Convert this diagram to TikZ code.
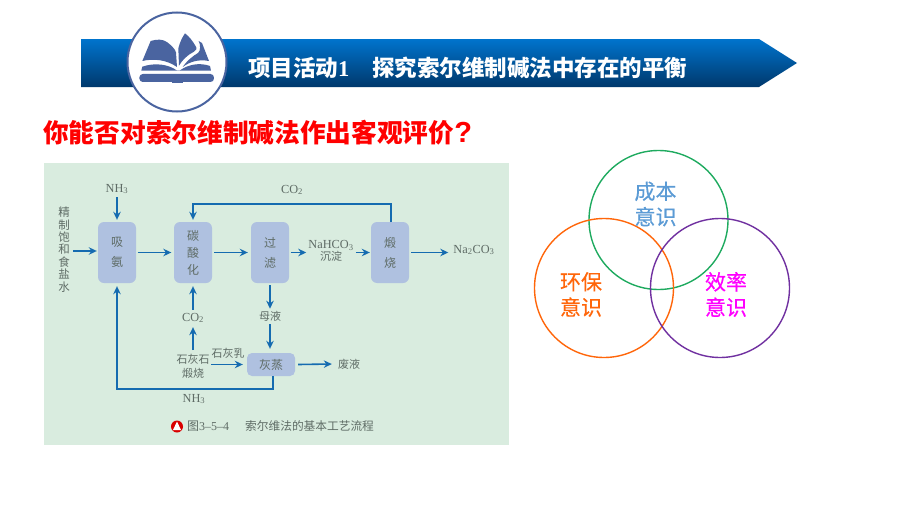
\documentclass[tikz,border=0pt]{standalone}
\usepackage{fontspec}
\setmainfont{Liberation Serif}
\newfontfamily\cjk{Noto Sans CJK SC}
\newfontfamily\cjkm[FakeBold=0.35]{Noto Sans CJK SC}
\usetikzlibrary{arrows.meta}
\definecolor{panelc}{HTML}{D9ECDF}
\definecolor{boxc}{HTML}{AFC1E0}
\definecolor{labc}{HTML}{5F6C66}
\definecolor{flowc}{HTML}{156BB0}
\definecolor{bookc}{HTML}{4A64A0}
\definecolor{ringg}{HTML}{1EAA5F}
\definecolor{ringo}{HTML}{FF660A}
\definecolor{ringp}{HTML}{7030A0}
\definecolor{ringb}{HTML}{5B9BD5}
\definecolor{ringm}{HTML}{FF00FF}
\tikzset{
  px/.style={x=1pt,y=-1pt},
  flow/.style={draw=flowc,line width=1.6pt,-{Stealth[length=8pt,width=7.5pt]}},
  procbox/.style={fill=boxc,rounded corners=6pt,minimum width=38pt,minimum height=61pt,inner sep=0pt,align=center,text=labc,font=\cjk\fontsize{12}{20}\selectfont},
  lab/.style={inner sep=0pt,text=labc,align=center,font=\cjk\fontsize{11}{14}\selectfont},
  chem/.style={inner sep=0pt,text=labc,font=\fontsize{12.3}{14}\selectfont},
  ring/.style={draw,line width=1.4pt,minimum size=139pt,circle,inner sep=0pt},
  ringtext/.style={inner sep=0pt,align=center,font=\cjkm\fontsize{21}{25.5}\selectfont},
  bannertext/.style={inner sep=0pt,anchor=west,text=white,font=\cjk\bfseries\fontsize{22.5}{26}\selectfont},
}
\begin{document}
\begin{tikzpicture}[px]
\useasboundingbox (0,0) rectangle (900,506);
\fill[white] (0,0) rectangle (900,506);
% banner
\shade[top color={rgb,255:red,0;green,116;blue,205},bottom color={rgb,255:red,0;green,56;blue,108}]
  (81,39) -- (759,39) -- (797,63) -- (759,87) -- (81,87) -- cycle;
\node[bannertext] (t1) at (248,68) {项目活动{\fontspec{Liberation Serif}\bfseries 1}};
\node[bannertext] (t2) at (372,68) {探究索尔维制碱法中存在的平衡};
% medallion
\node[circle,draw=bookc,fill=white,line width=2pt,minimum size=99pt,inner sep=0pt] (medal) at (177,62) {};
\begin{scope}[shift={(130pt,-25pt)},x=0.3333pt,y=-0.3333pt]
\fill[bookc] (37,108) -- (62,48) .. controls (80,42) and (100,42) .. (112,52) .. controls (125,62) and (135,72) .. (138,82) -- (141,126) .. controls (110,104) and (70,100) .. (37,108) -- cycle;
\fill[bookc] (147,122) -- (145,70) .. controls (150,50) and (158,35) .. (165,25) .. controls (178,35) and (188,48) .. (196,62) .. controls (202,70) and (200,76) .. (192,80) .. controls (172,90) and (157,105) .. (147,122) -- cycle;
\fill[bookc] (158,126) .. controls (172,106) and (190,92) .. (204,84) .. controls (212,78) and (212,60) .. (206,48) -- (216,54) -- (237,108) .. controls (205,102) and (180,110) .. (158,126) -- cycle;
\fill[bookc] (37,125) .. controls (75,112) and (115,118) .. (140,136) -- (150,136) .. controls (175,118) and (210,112) .. (240,123) -- (243,137) -- (34,137) -- cycle;
\fill[bookc,rounded corners=3.5pt] (28,147) -- (252,147) -- (252,171) -- (28,171) -- cycle;
\fill[bookc] (125,147) rectangle (158,174);
\end{scope}
% red question
\node[inner sep=0pt,anchor=west,text=red,font=\cjk\bfseries\fontsize{25.7}{30}\selectfont] (ask) at (43,132.5) {你能否对索尔维制碱法作出客观评价{\fontspec{Liberation Sans}\bfseries\fontsize{29}{30}\selectfont ?}};
% panel
\fill[panelc] (44,163) rectangle (509,445);
% process boxes
\node[procbox] (xian) at (117,252.5) {吸\\氨};
\node[procbox,font=\cjk\fontsize{12}{17}\selectfont] (tan) at (193,252.5) {碳\\酸\\化};
\node[procbox] (guo) at (270,252.5) {过\\滤};
\node[procbox] (duan) at (390,252.5) {煅\\烧};
\node[procbox,minimum width=48pt,minimum height=23pt,rounded corners=5pt] (hui) at (271,364.5) {灰蒸};
% labels
\node[chem] (nh3a) at (117,189) {NH\textsubscript{3}};
\node[lab,font=\cjk\fontsize{11.5}{12.4}\selectfont] (salt) at (64,249.5) {精\\制\\饱\\和\\食\\盐\\水};
\node[chem] (co2a) at (292,190) {CO\textsubscript{2}};
\node[lab,font=\fontsize{12.3}{12}\selectfont] (nahco) at (331,251) {NaHCO\textsubscript{3}\\{\cjk\fontsize{11}{12}\selectfont 沉淀}};
\node[chem] (naco) at (474,250) {Na\textsubscript{2}CO\textsubscript{3}};
\node[chem] (co2b) at (193,318) {CO\textsubscript{2}};
\node[lab] (mu) at (270,316) {母液};
\node[lab] (lime) at (193,366) {石灰石\\煅烧};
\node[lab] (milk) at (228,353) {石灰乳};
\node[lab] (fei) at (349,364) {废液};
\node[chem] (nh3b) at (194,399) {NH\textsubscript{3}};
% free ends
\coordinate (saltout) at (73,251);
\coordinate (nh3out) at (117,197);
\coordinate (limeup) at (193,350);
\coordinate (limeright) at (211,364.5);
\coordinate (corner) at (273,389);
\coordinate (duantop) at (391,222);
% connectors
\draw[flow] (nh3out) -- ([yshift=2pt]xian.north);
\draw[flow] (saltout) -- ([xshift=-1pt]saltout -| xian.west);
\draw[flow] ([xshift=1.5pt]xian.east) -- ([xshift=-2.5pt]xian.east -| tan.west);
\draw[flow] ([xshift=2pt]tan.east) -- ([xshift=-3pt]tan.east -| guo.west);
\draw[flow] ([xshift=1.5pt]guo.east) -- ([xshift=-2pt]nahco.west |- guo.east);
\draw[flow] ([xshift=2pt]nahco.east |- duan.west) -- ([xshift=-1pt]duan.west);
\draw[flow] ([xshift=2pt]duan.east) -- ([xshift=-5pt]naco.west |- duan.east);
\draw[flow] (duantop) -- (391,204) -- (193,204) -- ([yshift=2pt]tan.north);
\draw[flow] ([yshift=3pt]co2b.north) -- ([yshift=-3pt]tan.south);
\draw[flow] (limeup) -- ([yshift=-4pt]co2b.south);
\draw[flow] ([yshift=-2pt]guo.south) -- ([yshift=2pt]mu.north);
\draw[flow] ([yshift=-3pt]mu.south) -- ([yshift=4pt]mu.south |- hui.north);
\draw[flow] (limeright) -- ([xshift=-4pt]hui.west);
\draw[flow] ([xshift=3pt]hui.east) -- ([xshift=-6pt]fei.west);
\draw[flow] (hui.south -| corner) -- (corner) -- (117,389) -- ([yshift=-3pt]xian.south);
% caption
\node[circle,fill=red!85!black,minimum size=12pt,inner sep=0pt] (capicon) at (177,426.5) {};
\fill[white] (177,421.5) -- (181,430) -- (173,430) -- cycle;
\node[inner sep=0pt,anchor=west,text=labc,font=\fontsize{12}{13}\selectfont] (cap1) at (187,426.5) {{\cjk 图}3–5–4};
\node[inner sep=0pt,anchor=west,text=labc,font=\cjk\fontsize{11.7}{13}\selectfont] (cap2) at (245,426.5) {索尔维法的基本工艺流程};
% rings
\node[ring,draw=ringg] (rgreen) at (658.5,220) {};
\node[ring,draw=ringo] (rorange) at (604,288) {};
\node[ring,draw=ringp] (rpurple) at (720,288) {};
\node[ringtext,text=ringb] (cb) at (655.5,204) {成本\\意识};
\node[ringtext,text=ringo] (hb) at (581,294.5) {环保\\意识};
\node[ringtext,text=ringm] (xl) at (726,294.5) {效率\\意识};
\end{tikzpicture}
\end{document}
